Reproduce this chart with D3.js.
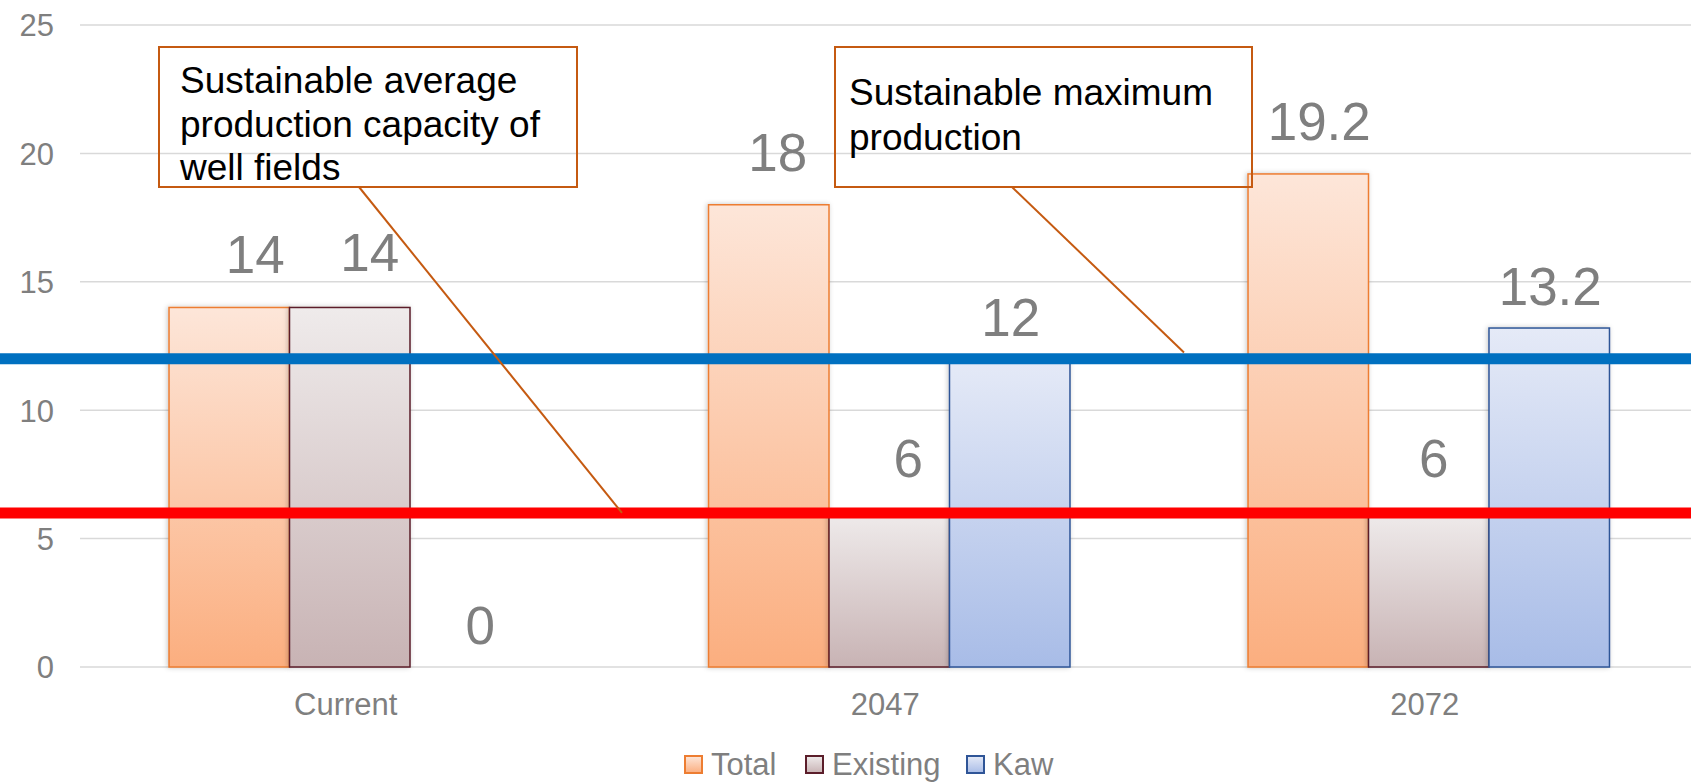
<!DOCTYPE html>
<html>
<head>
<meta charset="utf-8">
<script src="https://cdn.jsdelivr.net/npm/d3@7"></script>
<style>
  html, body { margin: 0; padding: 0; background: #fff; }
  svg { display: block; font-family: "Liberation Sans", Arial, sans-serif; }
</style>
</head>
<body>
<svg id="chart" width="1691" height="782"></svg>
<script>
// ---- data ----
const categories = ["Current", "2047", "2072"];
const seriesNames = ["Total", "Existing", "Kaw"];
const totalValues = [14, 18, 19.2];
const existingValues = [14, 6, 6];
const kawValues = [0, 12, 13.2];
const yTicks = [0, 5, 10, 15, 20, 25];
const maxProduction = 12;      // sustainable maximum production
const averageCapacity = 6;     // sustainable average capacity of well fields

// ---- styling ----
const W = 1691, H = 782;
const plot = { left: 80, right: 1698.5, top: 25, bottom: 667 };
const barStyle = {
  Total:    { stroke: "#ED7D31", top: "#FDE6D9", bottom: "#FBAE7F", labelGap: 34 },
  Existing: { stroke: "#5B1E2A", top: "#EFEBEB", bottom: "#C8B3B4", labelGap: 36 },
  Kaw:      { stroke: "#2F5597", top: "#E5EAF7", bottom: "#A8BCE7", labelGap: 23 }
};
// horizontal nudge of each value label, per series, per category (px)
const labelNudge = {
  Total:    [26, 9, 11],
  Existing: [20, 19, 5],
  Kaw:      [10, 1, 1]
};
const valuesBySeries = { Total: totalValues, Existing: existingValues, Kaw: kawValues };
const grey = "#7F7F7F";
const calloutColor = "#C55A11";

const svg = d3.select("#chart");
const defs = svg.append("defs");

seriesNames.forEach(s => {
  const g = defs.append("linearGradient")
    .attr("id", "grad-" + s).attr("x1", 0).attr("y1", 0).attr("x2", 0).attr("y2", 1);
  g.append("stop").attr("offset", "0%").attr("stop-color", barStyle[s].top);
  g.append("stop").attr("offset", "100%").attr("stop-color", barStyle[s].bottom);
});
const shadow = defs.append("filter").attr("id", "barShadow")
  .attr("x", "-20%").attr("y", "-20%").attr("width", "140%").attr("height", "140%");
shadow.append("feDropShadow").attr("dx", -1).attr("dy", 0)
  .attr("stdDeviation", 2.5).attr("flood-color", "#000").attr("flood-opacity", 0.22);

// ---- scales ----
const y = d3.scaleLinear().domain([0, 25]).range([plot.bottom, plot.top]);
const x0 = d3.scaleBand().domain(categories).range([plot.left, plot.right])
  .paddingInner(0.33).paddingOuter(0.165);
const x1 = d3.scaleBand().domain(seriesNames).range([0, x0.bandwidth()]);

// ---- gridlines ----
svg.append("g").selectAll("line").data(yTicks).join("line")
  .attr("x1", plot.left).attr("x2", W)
  .attr("y1", d => y(d)).attr("y2", d => y(d))
  .attr("stroke", "#D9D9D9").attr("stroke-width", 1.5);

// ---- y axis labels ----
const yAxis = d3.axisLeft(y).tickValues(yTicks).tickSize(0).tickPadding(0);
svg.append("g").attr("transform", "translate(54,0)").call(yAxis)
  .call(g => g.select(".domain").remove())
  .call(g => g.selectAll("text").attr("fill", grey)
    .attr("font-size", 31).attr("font-family", "Liberation Sans, Arial, sans-serif")
    .attr("dy", "0.35em"));

// ---- x axis labels ----
const xAxis = d3.axisBottom(x0).tickSize(0).tickPadding(0);
svg.append("g").attr("transform", `translate(-4,${plot.bottom})`).call(xAxis)
  .call(g => g.select(".domain").remove())
  .call(g => g.selectAll("text").attr("fill", grey)
    .attr("font-size", 31).attr("font-family", "Liberation Sans, Arial, sans-serif")
    .attr("dy", null).attr("y", 48));

// ---- bars ----
const barData = [];
categories.forEach((c, i) => {
  seriesNames.forEach(s => barData.push({ cat: c, idx: i, series: s, value: valuesBySeries[s][i] }));
});

const bars = svg.append("g");
bars.selectAll("rect").data(barData.filter(d => d.value > 0)).join("rect")
  .attr("x", d => x0(d.cat) + x1(d.series))
  .attr("y", d => y(d.value))
  .attr("width", x1.bandwidth())
  .attr("height", d => y(0) - y(d.value))
  .attr("fill", d => `url(#grad-${d.series})`)
  .attr("stroke", d => barStyle[d.series].stroke)
  .attr("stroke-width", 1.5)
  .attr("filter", "url(#barShadow)");

// ---- reference lines ----
svg.append("line")
  .attr("x1", 0).attr("x2", W)
  .attr("y1", y(maxProduction)).attr("y2", y(maxProduction))
  .attr("stroke", "#0070C0").attr("stroke-width", 11);
svg.append("line")
  .attr("x1", 0).attr("x2", W)
  .attr("y1", y(averageCapacity)).attr("y2", y(averageCapacity))
  .attr("stroke", "#FF0000").attr("stroke-width", 11);

// ---- value labels ----
svg.append("g").selectAll("text").data(barData).join("text")
  .attr("x", d => x0(d.cat) + x1(d.series) + x1.bandwidth() / 2 + labelNudge[d.series][d.idx])
  .attr("y", d => y(d.value) - barStyle[d.series].labelGap)
  .attr("text-anchor", "middle")
  .attr("fill", grey).attr("font-size", 53)
  .text(d => d3.format("~g")(d.value));

// ---- callouts ----
const callouts = [
  { box: [159, 47, 577, 187], textX: 180, baseline: 93, lineGap: 43.5,
    lines: ["Sustainable average", "production capacity of", "well fields"],
    from: [359, 187], toX: 622, toValue: averageCapacity },
  { box: [835, 47, 1252, 187], textX: 849, baseline: 105, lineGap: 45,
    lines: ["Sustainable maximum", "production"],
    from: [1012, 187], toX: 1184, toValue: maxProduction + 0.25 }
];
const cg = svg.append("g");
callouts.forEach(c => {
  cg.append("rect")
    .attr("x", c.box[0]).attr("y", c.box[1])
    .attr("width", c.box[2] - c.box[0]).attr("height", c.box[3] - c.box[1])
    .attr("fill", "none").attr("stroke", calloutColor).attr("stroke-width", 2);
  const t = cg.append("text").attr("font-size", 37).attr("fill", "#000");
  c.lines.forEach((ln, i) => {
    t.append("tspan").attr("x", c.textX).attr("y", c.baseline + i * c.lineGap).text(ln);
  });
  cg.append("line")
    .attr("x1", c.from[0]).attr("y1", c.from[1])
    .attr("x2", c.toX).attr("y2", y(c.toValue))
    .attr("stroke", calloutColor).attr("stroke-width", 2);
});

// ---- legend ----
const legendItems = [
  { name: "Total", x: 685 },
  { name: "Existing", x: 806 },
  { name: "Kaw", x: 967 }
];
const lg = svg.append("g");
legendItems.forEach(it => {
  lg.append("rect").attr("x", it.x).attr("y", 756).attr("width", 17).attr("height", 17)
    .attr("fill", `url(#grad-${it.name})`)
    .attr("stroke", barStyle[it.name].stroke).attr("stroke-width", 2);
  lg.append("text").attr("x", it.x + 26).attr("y", 775)
    .attr("font-size", 31).attr("fill", grey).text(it.name);
});
</script>
</body>
</html>
